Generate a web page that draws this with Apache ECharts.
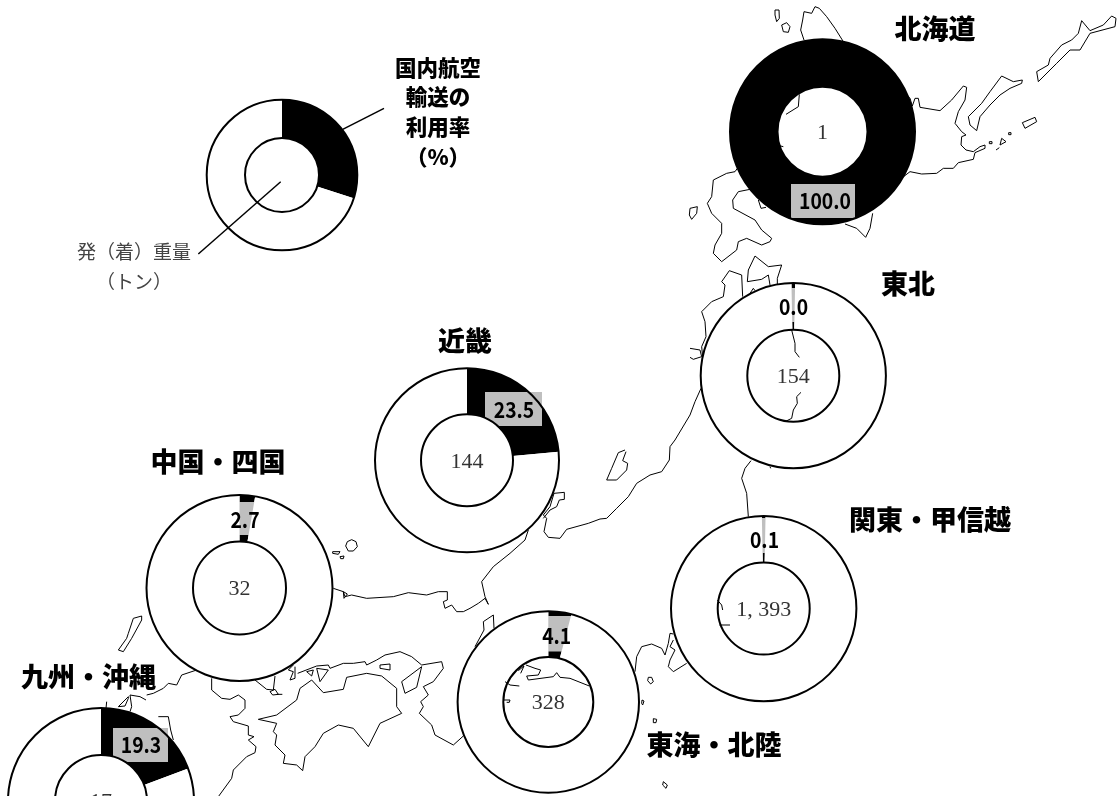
<!DOCTYPE html>
<html><head><meta charset="utf-8">
<style>html,body{margin:0;padding:0;background:#fff}#c{width:1119px;height:796px}</style>
<script src="https://cdn.jsdelivr.net/npm/echarts@6/dist/echarts.min.js"></script>
</head><body><div id="c"></div>
<script>
// ---- data ----
const regions = ['北海道','東北','関東・甲信越','東海・北陸','近畿','中国・四国','九州・沖縄'];
const airShare = [100.0, 0.0, 0.1, 4.1, 23.5, 2.7, 19.3];
const tonnage = [1, 154, 1393, 328, 144, 32, 17];
const keyShare = 30;
const keyTitle = ['国内航空','輸送の','利用率','（%）'];
const keyWeight = ['発（着）重量','（トン）'];

// ---- layout (px) ----
const centers = [[822.5,131.7],[793.3,375.7],[763.7,608.6],[548.3,702],[467,460.3],[239.5,588],[101,801]];
const outerR = [92.5,92.6,92.7,90.7,92,93,93];
const innerR = [45,46,46,45,46,46.5,46];
const titlePos = [[935,29],[908,284],[930,520],[714,745],[465,341],[218,461.5],[88.5,677]];
const ratePos = [[825,201],[793.5,307],[764.5,540],[556.7,635.5],[514,409.5],[245,520],[141,745]];
const boxes = [[791,184,64,34],[777,288,33,34],[749,518,32,35],[540,616,34,35.5],[485,392,57,34],[225,502,37,33],[113,728,55,34]];

// ---- background coastline, traced in zoomed-crop pixels (3x) ----
const coastCrops = [
 {o:[680,0], lines:[
  [[372,120],[362,90],[368,60],[372,35],[395,40],[405,20],[418,25],[440,50],[465,85],[490,125]],
  [[685,290],[690,295],[697,318],[705,295],[715,295],[720,322],[780,332],[815,300],[850,258],[860,262],[855,300],[835,335],[825,370],[845,395],[858,405],[845,410],[843,435],[858,450],[880,455],[900,440],[915,435],[915,445],[885,458],[880,478],[835,488],[820,505],[790,505],[770,520],[725,522],[690,515],[668,532]],
  [[865,350],[905,310],[930,275],[965,228],[1000,245],[1027,240],[1025,250],[990,265],[960,285],[930,315],[900,350],[890,392],[870,375],[865,350]],
  [[1070,215],[1105,195],[1110,175],[1145,135],[1175,120],[1195,100],[1205,62],[1230,92],[1270,75],[1295,48],[1308,55],[1305,80],[1230,100],[1200,150],[1170,150],[1130,190],[1075,245],[1070,215]],
  [[1027,368],[1065,352],[1070,365],[1035,385],[1027,368]],
  [[965,415],[978,425],[960,435],[965,415]],[[948,450],[958,443]],
  [[928,425],[936,425],[936,431],[928,431],[928,425]],[[986,398],[993,398],[993,404],[986,404],[986,398]],
  [[285,30],[297,30],[298,55],[290,65],[285,45],[285,30]],
  [[305,75],[320,68],[330,80],[325,97],[310,95],[305,75]],
  [[172,505],[165,515],[140,520],[100,540],[95,590],[82,610],[95,640],[125,670],[125,700],[105,735],[100,760],[125,785],[170,750],[175,725],[200,715],[245,735],[270,725],[275,715],[245,690],[225,660],[160,625],[158,600],[175,575],[210,568]],
  [[235,600],[243,625],[258,622]],
  [[30,625],[52,620],[50,640],[35,658],[28,645],[30,625]],
  [[495,672],[530,685],[557,712],[570,685],[578,640]]
 ]},
 {o:[690,250], lines:[
  [[262,103],[262,85],[275,45],[235,50],[195,18],[175,60],[172,95],[215,88],[235,75],[240,105]],
  [[158,140],[155,75],[118,62],[95,95],[105,105],[100,140],[65,155],[35,185],[45,215],[48,260],[35,290],[38,320]],
  [[0,295],[30,300],[35,320],[10,328],[0,322]],
  [[33,415],[15,455],[0,495],[-45,570]],
  [[180,130],[190,115],[195,122]],
  [[183,632],[165,655],[155,685],[170,730],[175,800]],
  [[240,650],[242,655]]
 ]},
 {o:[330,440], lines:[
  [[1035,0],[1020,20],[1018,60],[995,95],[960,105],[920,130],[895,170],[860,205],[830,235],[810,237],[775,250],[710,268],[690,295],[655,292],[642,275],[650,235],[640,225],[660,200],[672,160],[703,157],[703,178],[688,180],[680,200],[660,210],[640,235]],
  [[885,30],[865,38],[845,85],[830,120],[860,120],[890,90],[893,70],[878,62],[888,35]],
  [[595,270],[585,300],[540,340],[490,380],[455,425],[465,470],[475,493],[465,475],[445,490],[420,505],[400,515],[380,515],[365,495],[345,505],[340,485],[352,480],[352,455],[325,455],[290,465],[235,458],[190,470],[110,475],[65,465],[45,470],[40,455],[10,445]],
  [[40,455],[52,462],[42,475],[40,455]],
  [[65,299],[78,305],[82,320],[70,333],[55,333],[47,318],[52,305],[65,299]],
  [[8,335],[30,335],[25,343],[8,340],[8,335]],[[30,350],[42,348],[40,356],[32,356],[30,350]],
  [[435,620],[462,570],[460,545],[490,525],[492,565]],
  [[915,695],[920,650],[935,620],[965,612],[995,625],[1005,645],[1015,610],[1020,580],[1030,582]],
  [[1030,600],[1020,620],[1035,630],[1020,660],[1015,680],[1030,695],[1070,670]],
  [[955,712],[965,712],[970,725],[962,732],[953,722],[955,712]],
  [[936,780],[942,783],[938,795],[935,790],[936,780]],
  [[970,836],[980,838],[978,848],[970,848],[970,836]],
  [[1000,1025],[1012,1035],[1008,1045],[998,1035],[1000,1025]]
 ]},
 {o:[0,600], lines:[
  [[440,285],[460,280],[490,265],[505,250],[530,255],[545,225],[590,210]],
  [[635,235],[635,270],[665,295],[690,298],[715,285],[735,300],[735,325],[715,345],[690,350],[700,365],[745,378],[745,405],[762,410],[745,420],[768,440],[765,458],[740,470],[700,510],[695,535],[655,590]],
  [[765,240],[800,268],[820,270],[825,228]],
  [[810,275],[825,268],[835,283],[818,285],[810,275]],[[830,283],[847,283]],
  [[880,195],[865,210],[880,215],[870,240],[885,235],[885,200]],
  [[893,220],[950,198],[985,195],[990,205],[1030,190],[1060,190],[1095,185],[1100,195],[1130,180],[1155,165],[1200,155],[1235,170],[1265,195],[1325,185],[1330,205],[1300,245],[1270,260],[1285,285],[1262,305],[1270,320],[1258,340],[1295,375],[1305,405],[1360,435],[1390,408]],
  [[1265,200],[1205,245],[1215,280],[1250,262],[1265,200]],
  [[775,358],[830,345],[890,300],[900,265],[935,240],[970,278],[1030,268],[1040,232],[1100,220],[1145,228],[1190,265],[1190,320],[1205,340],[1140,370],[1105,440],[1060,385],[1015,375],[970,400],[945,440],[915,470],[908,512],[890,495],[850,490],[855,465],[825,435],[830,405],[820,395],[830,370],[775,358]],
  [[1140,195],[1170,192],[1170,210],[1140,205],[1140,195]],
  [[920,215],[940,210],[935,228],[920,215]],[[950,205],[985,210],[960,245],[950,205]],
  [[425,48],[400,55],[385,100],[380,115],[355,150],[370,155],[395,115],[425,60],[425,48]],
  [[385,290],[355,320],[375,318],[385,295],[385,290]],
  [[320,305],[318,325]],[[390,335],[395,320],[390,285],[420,290],[438,300]],
  [[475,350],[505,350],[512,390],[520,420]]
 ]}
];
// parts of the coast seen through the doughnut holes
const holeCrops = [
 {o:[680,0], lines:[[[358,283],[355,320],[318,343]],[[298,437],[310,440]]]},
 {o:[690,250], lines:[[[305,240],[315,280],[315,305],[328,322]],[[333,427],[320,440],[322,460],[310,480],[305,505],[285,515]]]},
 {o:[690,500], lines:[[[82,300],[95,315],[98,330]],[[88,375],[120,375]]]},
 {o:[330,440], lines:[
  [[588,675],[615,685],[632,690],[625,705],[590,708],[595,720],[670,710],[680,698],[690,712],[720,715],[778,738]],
  [[572,700],[582,678],[565,692]],[[525,725],[540,735],[568,738]],[[520,780],[540,780],[538,787],[530,787]]
 ]}
];

const JP = '"Noto Sans CJK JP"';
const none = 'transparent';
const fmt = v => String(v).replace(/\B(?=(\d{3})+$)/g, ', ');
const toLines = (crops, z) => crops.flatMap(c => c.lines.map(l => ({
  type:'polyline', silent:true, z,
  shape:{points:l.map(p => [c.o[0]+p[0]/3, c.o[1]+p[1]/3])},
  style:{stroke:'#000', lineWidth:1, fill:null}
})));
const base = {type:'pie', silent:true, animation:false, label:{show:false}, labelLine:{show:false}, emphasis:{disabled:true}, avoidLabelOverlap:false, clockwise:true};

function donut(center, R, r, share, total){
  const min = share < 1 ? 2.3 : 0;
  const start = 90 + min/2;
  const vals = [share, 100-share];
  return [
    {...base, z:2, center, radius:[r,R], startAngle:start, minAngle:min,
     data:[{value:vals[0],itemStyle:{color:'#000'}},{value:vals[1],itemStyle:{color:none}}]},
    {...base, z:4, center, radius:[r,R], startAngle:start, minAngle:min,
     data:[{value:vals[0],itemStyle:{color:none}},{value:vals[1],itemStyle:{color:'#fff'}}]},
    {...base, z:5, center, radius:[0,R], data:[{value:1,itemStyle:{color:none,borderColor:'#000',borderWidth:2}}]},
    {...base, z:5, center, radius:[0,r], data:[{value:1,name:total===null?'':fmt(total),itemStyle:{color:'#fff',borderColor:'#000',borderWidth:2}}],
     label:{show:total!==null, position:'center', offset:[0,1.5], formatter:'{b}', color:'#333', fontFamily:'"Liberation Serif"', fontSize:22}}
  ];
}

const series = [];
regions.forEach((_,i) => series.push(...donut(centers[i], outerR[i], innerR[i], airShare[i], tonnage[i])));
series.push(...donut([282,175], 75.3, 37, keyShare, null));

const text = (s,x,y,font,fill,z=8,scaleX=1) => ({type:'text', silent:true, z, x, y, scaleX, style:{text:s, font, fill, textAlign:'center', textVerticalAlign:'middle'}});
const elements = [
  ...toLines(coastCrops,1),
  ...boxes.map(b => ({type:'rect', silent:true, z:3, shape:{x:b[0],y:b[1],width:b[2],height:b[3]}, style:{fill:'#bfbfbf'}})),
  ...toLines(holeCrops,6),
  ...regions.map((n,i) => text(n,titlePos[i][0],titlePos[i][1],`900 27px ${JP}`,'#000')),
  ...airShare.map((v,i) => text(v.toFixed(1),ratePos[i][0],ratePos[i][1],`700 22px ${JP}`,'#000',8,0.88)),
  ...keyTitle.map((s,i) => text(s,438,[68,97,127,157][i],`900 21.5px ${JP}`,'#000')),
  ...keyWeight.map((s,i) => text(s,134,[252,282][i],`400 19px ${JP}`,'#444')),
  {type:'line', silent:true, z:7, shape:{x1:342.7,y1:129.3,x2:384,y2:108.3}, style:{stroke:'#000',lineWidth:1.5}},
  {type:'line', silent:true, z:7, shape:{x1:280.7,y1:181.7,x2:198.3,y2:254}, style:{stroke:'#000',lineWidth:1.5}}
];

const chart = echarts.init(document.getElementById('c'), null, {renderer:'canvas', width:1119, height:796});
chart.setOption({animation:false, backgroundColor:'#fff', series, graphic:{elements}});
</script></body></html>
